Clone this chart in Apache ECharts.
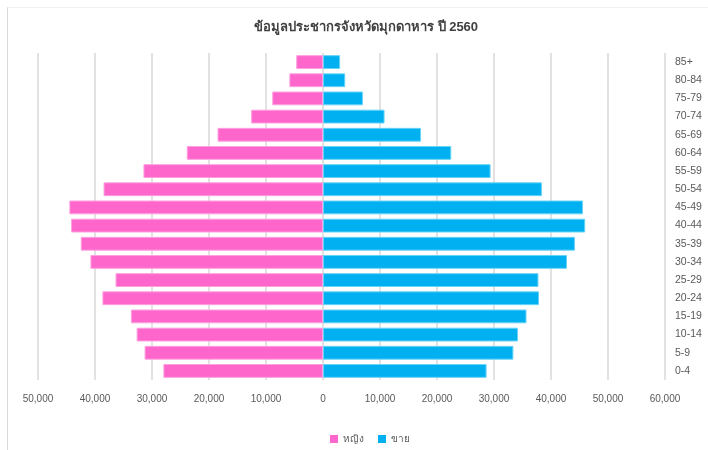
<!DOCTYPE html>
<html>
<head>
<meta charset="utf-8">
<script src="https://cdn.jsdelivr.net/npm/echarts@6/dist/echarts.min.js"></script>
<style>
  html, body { margin: 0; padding: 0; background: #fff; }
  #frame { position: absolute; left: 7px; top: 7px; width: 701px; height: 443px;
           border-left: 1px solid #d9d9d9; border-top: 1px solid #f0f0f0; }
  #main { position: absolute; left: 0; top: 0; width: 708px; height: 450px; }
</style>
</head>
<body>
<div id="frame"></div>
<div id="main"></div>
<script>
// ช่วงอายุ (จากล่างขึ้นบน)
let ageGroups = ["0-4", "5-9", "10-14", "15-19", "20-24", "25-29", "30-34", "35-39", "40-44",
  "45-49", "50-54", "55-59", "60-64", "65-69", "70-74", "75-79", "80-84", "85+"];
// หญิง
let female = [28000, 31300, 32700, 33700, 38700, 36400, 40800, 42500, 44200,
  44500, 38500, 31500, 23900, 18500, 12600, 8900, 5900, 4700];
// ขาย
let male = [28700, 33400, 34200, 35700, 37900, 37800, 42800, 44200, 46000,
  45600, 38400, 29400, 22500, 17200, 10800, 7000, 3900, 3000];

let xMin = -50000;
let xMax = 60000;
let xStep = 10000;

let font = "'Liberation Sans', 'Noto Sans', sans-serif";

let chart = echarts.init(document.getElementById("main"));

chart.setOption({
  animation: false,
  title: {
    text: "ข้อมูลประชากรจังหวัดมุกดาหาร ปี 2560",
    left: 361,
    textAlign: "center",
    top: 16,
    textStyle: { color: "#404040", fontWeight: "bold", fontSize: 13, fontFamily: font }
  },
  legend: {
    left: 325,
    top: 429,
    icon: "rect",
    itemWidth: 8,
    itemHeight: 8,
    itemGap: 14,
    itemStyle: { borderWidth: 0 },
    textStyle: { color: "#595959", fontSize: 10, fontFamily: font },
    data: ["หญิง", "ขาย"]
  },
  grid: { left: 38, right: 43, top: 53, bottom: 70, containLabel: false },
  xAxis: {
    type: "value",
    min: xMin,
    max: xMax,
    interval: xStep,
    axisLine: { show: false },
    axisTick: { show: false },
    splitLine: { show: true, lineStyle: { color: "#d9d9d9", width: 1.5 } },
    axisLabel: {
      color: "#595959",
      fontSize: 10,
      fontFamily: font,
      margin: 14,
      formatter: function(v) { return Math.abs(v).toLocaleString("en-US"); }
    }
  },
  yAxis: {
    type: "category",
    position: "right",
    data: ageGroups,
    axisLine: { show: false },
    axisTick: { show: false },
    axisLabel: { color: "#595959", fontSize: 10.5, fontFamily: font, margin: 10, align: "left" }
  },
  series: [
    {
      name: "หญิง",
      type: "bar",
      stack: "pop",
      barCategoryGap: "24%",
      data: female.map(function(v) { return -v; }),
      itemStyle: { color: "#ff66cc", borderColor: "#ff9fdf", borderWidth: 1 }
    },
    {
      name: "ขาย",
      type: "bar",
      stack: "pop",
      barCategoryGap: "24%",
      data: male,
      itemStyle: { color: "#00b0f0", borderColor: "#66d3f7", borderWidth: 1 }
    }
  ]
});
</script>
</body>
</html>
